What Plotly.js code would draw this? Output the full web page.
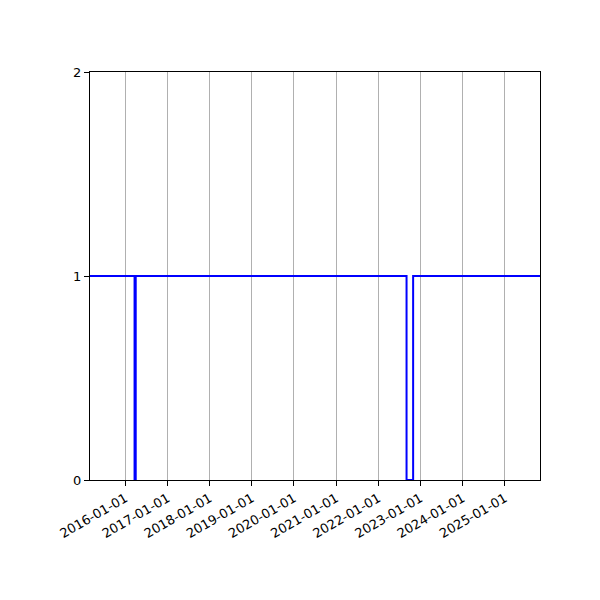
<!DOCTYPE html>
<html><head><meta charset="utf-8">
<script src="https://cdn.plot.ly/plotly-3.0.1.min.js"></script>
<style>html,body{margin:0;padding:0;background:#fff}#c{width:600px;height:600px}</style>
</head><body><div id="c"></div>
<script>
const dates = ['2015-03-01','2016-03-21','2016-03-31','2022-09-02','2022-10-29','2025-11-01'];
const values = [1, 0, 1, 0, 1, 1];
const tickDates = ['2016-01-01','2017-01-01','2018-01-01','2019-01-01','2020-01-01','2021-01-01','2022-01-01','2023-01-01','2024-01-01','2025-01-01'];
const yTicks = [0, 1, 2];

Plotly.newPlot('c', [{
  x: dates, y: values, type: 'scatter', mode: 'lines',
  line: {shape: 'hv', color: '#0000ff', width: 2}
}], {
  width: 600, height: 600,
  margin: {l: 90, r: 60, t: 72, b: 120},
  paper_bgcolor: '#fff', plot_bgcolor: '#fff',
  showlegend: false,
  font: {family: 'DejaVu Sans', size: 13, color: '#000'},
  xaxis: {
    type: 'date', range: ['2015-03-01', '2025-11-01'],
    tickvals: tickDates, ticktext: tickDates, tickangle: -30,
    showgrid: true, gridcolor: '#b0b0b0', gridwidth: 1,
    showline: true, linecolor: '#000', linewidth: 1, mirror: true,
    ticks: 'outside', ticklen: 5, tickcolor: '#000', zeroline: false
  },
  yaxis: {
    range: [0, 2], tickvals: yTicks, ticktext: yTicks.map(String),
    showgrid: false,
    showline: true, linecolor: '#000', linewidth: 1, mirror: true,
    ticks: 'outside', ticklen: 5, tickcolor: '#000', zeroline: false
  }
}, {staticPlot: true});
</script></body></html>
